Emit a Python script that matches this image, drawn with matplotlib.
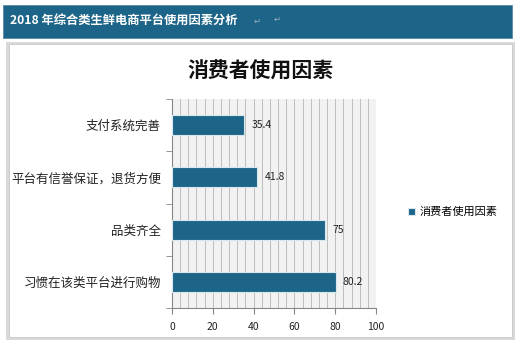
import matplotlib.pyplot as plt
from matplotlib.patches import Rectangle

plt.rcParams['font.family'] = ['Noto Sans CJK SC', 'DejaVu Sans']

categories = ["习惯在该类平台进行购物", "品类齐全", "平台有信誉保证，退货方便", "支付系统完善"]
values = [80.2, 75, 41.8, 35.4]
value_labels = ["80.2", "75", "41.8", "35.4"]
x_ticks = [0, 20, 40, 60, 80, 100]

header_title = "2018 年综合类生鲜电商平台使用因素分析"
chart_title = "消费者使用因素"
series_name = "消费者使用因素"

bar_color = "#1D6588"
W, H = 520, 344

fig = plt.figure(figsize=(5.2, 3.44), dpi=100)
fig.patch.set_facecolor("white")

# header banner
fig.patches.append(Rectangle((3 / W, 1 - 38 / H), 509 / W, 33 / H, transform=fig.transFigure,
                             facecolor=bar_color, edgecolor="#5a8aa3", lw=0.6, zorder=-2))
fig.text(10 / W, 1 - 21 / H, header_title, color="white", fontsize=8.8, fontweight="bold",
         va="center", ha="left")
fig.text(254 / W, 1 - 21 / H, "↵", color="#9ab", fontsize=6, va="center")
fig.text(274 / W, 1 - 19 / H, "↵", color="#9ab", fontsize=6, va="center")

# chart frame with shadow
fig.patches.append(Rectangle((6 / W, 1 - 340 / H), 509 / W, 298 / H, transform=fig.transFigure,
                             facecolor="#d9d9d9", edgecolor="none", zorder=-2))
fig.patches.append(Rectangle((9 / W, 1 - 337 / H), 503 / W, 293 / H, transform=fig.transFigure,
                             facecolor="white", edgecolor="#c8c8c8", lw=0.6, zorder=-1))

fig.text(260 / W, 1 - 71 / H, chart_title, fontsize=15, fontweight="bold", ha="center",
         va="center", color="#111111")

ax = fig.add_axes([172 / W, 1 - 308 / H, 204 / W, 209 / H])
ax.set_zorder(2)
ax.set_facecolor("#F2F2F2")
ypos = range(len(categories))
bars = ax.barh(ypos, values, height=0.38, color=bar_color, edgecolor="#d8e6ee", lw=0.8,
               label=series_name, zorder=3)
for y, v, lab in zip(ypos, values, value_labels):
    ax.text(v + 3.5, y, lab, va="center", ha="left", fontsize=7.5, color="#222222")

ax.set_xlim(0, 100)
ax.set_ylim(-0.5, 3.5)
ax.set_xticks(x_ticks)
ax.set_xticklabels([str(t) for t in x_ticks], fontsize=7.5, color="#222222")
ax.set_yticks(list(ypos))
ax.set_yticklabels(categories, fontsize=9, color="#222222")
ax.set_yticks([-0.5, 0.5, 1.5, 2.5, 3.5], minor=True)
for t in range(4, 100, 4):
    ax.axvline(t, color="#b4b4b4", lw=0.6, zorder=1)
ax.tick_params(axis="y", which="major", length=0, pad=8)
ax.tick_params(axis="y", which="minor", length=4, color="#868686")
ax.tick_params(axis="x", length=4, color="#868686", pad=6)
for s in ["top", "right"]:
    ax.spines[s].set_visible(False)
for s in ["left", "bottom"]:
    ax.spines[s].set_color("#868686")
    ax.spines[s].set_linewidth(0.8)

fig.legend(handles=[bars], labels=[series_name], loc="center left",
           bbox_to_anchor=(398 / W, 1 - 212 / H), frameon=False, fontsize=8,
           handlelength=0.6, handleheight=0.6, handletextpad=0.4)

fig.savefig("out.png", dpi=100)
